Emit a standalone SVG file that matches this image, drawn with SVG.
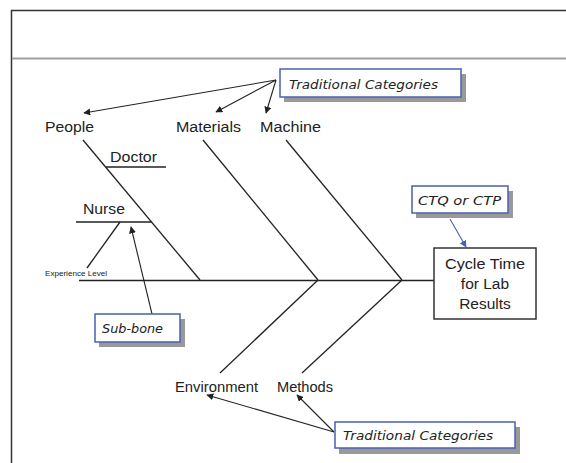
<svg xmlns="http://www.w3.org/2000/svg" width="566" height="463" viewBox="0 0 566 463">
<style>
.lbl{font-family:"Liberation Sans",Arial,sans-serif;font-size:15.5px;fill:#222}
.call{font-family:"DejaVu Sans",Verdana,sans-serif;font-style:italic;font-size:13px;fill:#222}
.bone{stroke:#222;stroke-width:1.3;fill:none}
.arr{stroke:#222;stroke-width:1.1;fill:none;marker-end:url(#ah)}
.box{fill:#fff;stroke:#4a5fb5;stroke-width:1.5}
.shadow{fill:#999}
</style>
<defs>
<marker id="ah" viewBox="0 0 10 10" refX="9" refY="5" markerWidth="7" markerHeight="7" markerUnits="userSpaceOnUse" orient="auto">
<path d="M0,0 L10,5 L0,10 z" fill="#222"/>
</marker>
<marker id="ahb" viewBox="0 0 10 10" refX="9" refY="5" markerWidth="7" markerHeight="7" markerUnits="userSpaceOnUse" orient="auto">
<path d="M0,0 L10,5 L0,10 z" fill="#4a5fb5"/>
</marker>
</defs>
<g id="frame">
<path d="M566,10.5 H11.5 V463" fill="none" stroke="#333" stroke-width="1.5"/>
<line x1="12" y1="58.5" x2="566" y2="58.5" stroke="#a0a0a0" stroke-width="2"/>
</g>
<g id="connectors">
<line class="bone" x1="79" y1="280.5" x2="434" y2="280.5"/>
<line class="bone" x1="83" y1="140" x2="200" y2="280"/>
<line class="bone" x1="203" y1="140" x2="318" y2="280"/>
<line class="bone" x1="286" y1="140" x2="402" y2="280"/>
<line class="bone" x1="318" y1="280" x2="220" y2="373"/>
<line class="bone" x1="402" y1="280" x2="302" y2="373"/>
<line class="bone" x1="106" y1="167" x2="166" y2="167"/>
<line class="bone" x1="76" y1="222" x2="152" y2="222"/>
<line class="bone" x1="120" y1="222" x2="87" y2="268"/>
<line class="arr" x1="276" y1="80" x2="84" y2="113"/>
<line class="arr" x1="276" y1="80" x2="216" y2="112"/>
<line class="arr" x1="276" y1="80" x2="266" y2="113"/>
<line class="arr" x1="334" y1="432" x2="207" y2="395"/>
<line class="arr" x1="334" y1="432" x2="297" y2="395"/>
<line class="arr" x1="152" y1="314" x2="131" y2="227"/>
<line x1="450" y1="219" x2="466" y2="247" stroke="#4a5fb5" stroke-width="1.1" marker-end="url(#ahb)"/>
</g>
<g id="people"><text class="lbl" x="45" y="132" textLength="49" lengthAdjust="spacingAndGlyphs">People</text></g>
<g id="materials"><text class="lbl" x="176" y="132" textLength="65" lengthAdjust="spacingAndGlyphs">Materials</text></g>
<g id="machine"><text class="lbl" x="260" y="132" textLength="61" lengthAdjust="spacingAndGlyphs">Machine</text></g>
<g id="doctor"><text class="lbl" x="110" y="162" textLength="47" lengthAdjust="spacingAndGlyphs">Doctor</text></g>
<g id="nurse"><text class="lbl" x="83" y="214" textLength="42" lengthAdjust="spacingAndGlyphs">Nurse</text></g>
<g id="experience"><text x="45" y="276" font-family="Liberation Sans,Arial,sans-serif" font-size="7.5" fill="#222" textLength="62" lengthAdjust="spacingAndGlyphs">Experience Level</text></g>
<g id="environment"><text class="lbl" x="175" y="392" textLength="83" lengthAdjust="spacingAndGlyphs">Environment</text></g>
<g id="methods"><text class="lbl" x="277" y="392" textLength="56" lengthAdjust="spacingAndGlyphs">Methods</text></g>
<g id="effect">
<rect x="434" y="248" width="102" height="71" fill="#fff" stroke="#333" stroke-width="1.5"/>
<text class="lbl" x="485" y="269" text-anchor="middle" textLength="80" lengthAdjust="spacingAndGlyphs">Cycle Time</text>
<text class="lbl" x="485" y="289" text-anchor="middle">for Lab</text>
<text class="lbl" x="485" y="309" text-anchor="middle">Results</text>
</g>
<g id="callout-top">
<rect class="shadow" x="284" y="74" width="182" height="28"/>
<rect class="box" x="280" y="69" width="181" height="28"/>
<text class="call" x="289" y="89" textLength="149" lengthAdjust="spacingAndGlyphs">Traditional Categories</text>
</g>
<g id="callout-ctq">
<rect class="shadow" x="416" y="191" width="97" height="27"/>
<rect class="box" x="412" y="186" width="96" height="27"/>
<text class="call" x="418" y="205" textLength="83" lengthAdjust="spacingAndGlyphs">CTQ or CTP</text>
</g>
<g id="callout-subbone">
<rect class="shadow" x="99" y="319" width="86" height="28"/>
<rect class="box" x="95" y="314" width="85" height="28"/>
<text class="call" x="102" y="333" textLength="61" lengthAdjust="spacingAndGlyphs">Sub-bone</text>
</g>
<g id="callout-bottom">
<rect class="shadow" x="339" y="427" width="181" height="27"/>
<rect class="box" x="335" y="422" width="180" height="26"/>
<text class="call" x="343" y="440" textLength="150" lengthAdjust="spacingAndGlyphs">Traditional Categories</text>
</g>
</svg>
